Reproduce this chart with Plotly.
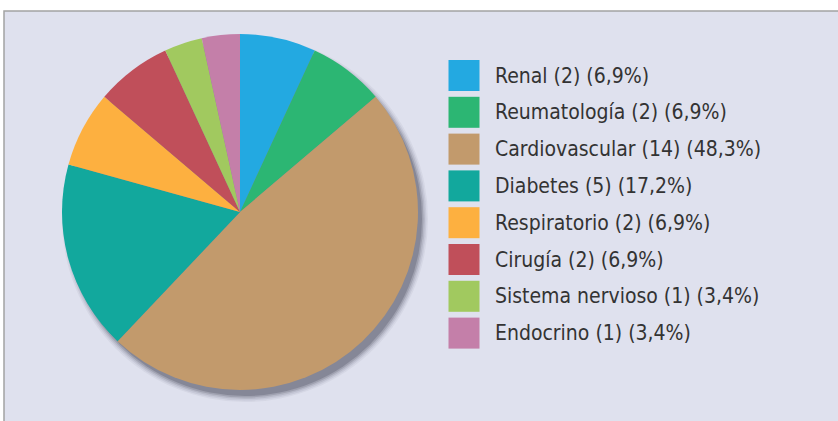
import plotly.graph_objects as go

labels = ["Renal", "Reumatología", "Cardiovascular", "Diabetes", "Respiratorio",
          "Cirugía", "Sistema nervioso", "Endocrino"]
counts = [2, 2, 14, 5, 2, 2, 1, 1]
colors = ["#23a9e1", "#2cb673", "#c29a6c", "#12a89d", "#fdb040",
          "#c04f5a", "#a1c95f", "#c47fa9"]

total = sum(counts)
legend_text = [f"{l} ({c}) ({c / total * 100:.1f}%)".replace(".", ",")
               for l, c in zip(labels, counts)]

W, H = 838, 421
cx, cy, r = 240, 212, 178  # pie centre / radius in pixels (layout)
row0, step = 75.5, 36.8    # legend row layout in pixels

fig = go.Figure()

fig.add_trace(go.Pie(
    labels=labels, values=counts, sort=False, direction="clockwise", rotation=0,
    marker=dict(colors=colors, line=dict(width=0)),
    textinfo="none", hoverinfo="label+value+percent", showlegend=False,
    domain=dict(x=[(cx - r) / W, (cx + r) / W],
                y=[(H - cy - r) / H, (H - cy + r) / H]),
))

# custom legend with large square swatches
idx = list(range(len(labels)))
fig.add_trace(go.Scatter(
    x=[0] * len(labels), y=idx, mode="markers",
    marker=dict(symbol="square", size=31, color=colors, line=dict(width=0)),
    hoverinfo="skip", showlegend=False, xaxis="x", yaxis="y",
))
for i, t in zip(idx, legend_text):
    fig.add_annotation(x=29, y=i, text=t, showarrow=False, xanchor="left",
                       yanchor="middle", xref="x", yref="y",
                       font=dict(family="Liberation Sans Narrow, DejaVu Sans Condensed, sans-serif",
                                 size=21, color="#333333"))

shapes = [dict(type="rect", xref="paper", yref="paper", x0=4 / W, x1=1.01,
               y0=-0.01, y1=1 - 11 / H, fillcolor="#dfe1ee",
               line=dict(color="#a3a3a3", width=1.5), layer="below")]
# soft shadow under the pie
dx, dy = 5, 7
for extra, op in [(5, 0.06), (3.5, 0.09), (2, 0.13), (0.5, 0.2), (-1, 0.28)]:
    rr = r + extra
    shapes.append(dict(type="circle", xref="paper", yref="paper",
                       x0=(cx + dx - rr) / W, x1=(cx + dx + rr) / W,
                       y0=(H - cy - dy - rr) / H, y1=(H - cy - dy + rr) / H,
                       fillcolor=f"rgba(70,70,85,{op})", line=dict(width=0), layer="below"))

fig.update_layout(
    width=W, height=H, margin=dict(l=0, r=0, t=0, b=0),
    paper_bgcolor="white", plot_bgcolor="rgba(0,0,0,0)",
    shapes=shapes,
    xaxis=dict(domain=[0.5, 1.0], range=[-45, 374], visible=False, fixedrange=True),
    yaxis=dict(domain=[0, 1], range=[(H - row0) / step, -row0 / step], visible=False, fixedrange=True),
)

fig.write_html("out.html", config={"displayModeBar": False},
               post_script="document.body.style.margin='0';document.body.style.overflow='hidden';")
